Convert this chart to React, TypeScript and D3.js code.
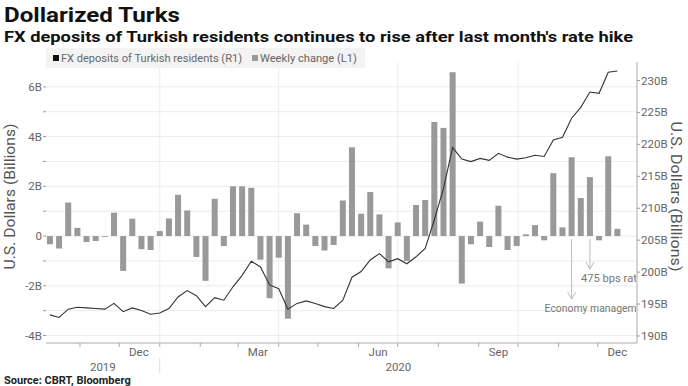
import React from "react";
import * as d3 from "d3";

// weekly data, first observation week of Oct 9 2019
const startDate = new Date(2019, 9, 9);

// Weekly change in FX deposits, USD billions (left axis)
const weeklyChange = [
  -0.33, -0.5, 1.35, 0.33, -0.24, -0.2, -0.03, 0.94, -1.4, 0.7, -0.53, -0.56,
  0.2, 0.71, 1.66, 1.03, -0.84, -1.8, 1.5, -0.4, 2.0, 2.0, 1.94, -0.95, -2.5,
  -0.87, -3.32, 0.92, 0.46, -0.4, -0.58, -0.36, 1.43, 3.57, 0.9, 1.77, 0.87,
  -1.3, 0.55, -1.0, 1.25, 1.45, 4.59, 4.35, 6.59, -1.91, -0.33, 0.58, -0.44,
  1.22, -0.56, -0.4, 0.07, 0.44, -0.17, 2.53, 0.35, 3.17, 1.53, 2.37, -0.17,
  3.21, 0.29,
];

// FX deposits of Turkish residents, USD billions (right axis)
const deposits = [
  193.3, 192.9, 194.2, 194.5, 194.4, 194.3, 194.2, 195.1, 193.8, 194.4, 194.0,
  193.4, 193.6, 194.3, 196.1, 197.1, 196.3, 194.6, 196.0, 195.6, 197.7, 199.5,
  201.7, 200.8, 198.0, 197.4, 194.2, 195.1, 195.5, 195.1, 194.6, 194.3, 195.6,
  199.2, 200.1, 201.9, 202.9, 201.6, 202.1, 201.3, 202.4, 203.7, 208.2, 213.1,
  219.5, 217.7, 217.3, 217.8, 217.5, 218.6, 218.0, 217.7, 217.9, 218.3, 218.1,
  220.7, 221.1, 224.1, 225.8, 228.2, 228.0, 231.3, 231.5,
];

const dates = weeklyChange.map((_, i) => d3.timeDay.offset(startDate, i * 7));

const leftTicks = [-4, -2, 0, 2, 4, 6];
const rightTicks = [190, 195, 200, 205, 210, 215, 220, 225, 230];
const monthLabels = [
  { date: new Date(2019, 11, 16), label: "Dec" },
  { date: new Date(2020, 2, 16), label: "Mar" },
  { date: new Date(2020, 5, 16), label: "Jun" },
  { date: new Date(2020, 8, 16), label: "Sep" },
  { date: new Date(2020, 11, 16), label: "Dec" },
];
// labels are cut off at the plot edge in the original
const annotations = [
  { idx: 57, label: "Economy managem", len: 60, dx: 27, w: 92 },
  { idx: 59, label: "475 bps rat", len: 30, dx: 9, w: 56 },
];

const W = 688;
const H = 386;
const L = 46,
  R = 637,
  T = 62,
  B = 343;
const font = "Roboto, 'Open Sans', sans-serif";
const grey = "#666";

export default function App() {
  const x = d3
    .scaleTime()
    .domain([new Date(2019, 9, 6), new Date(2020, 11, 31)])
    .range([L, R]);
  const yL = d3.scaleLinear().domain([-4.3, 7]).range([B, T]);
  const yR = d3.scaleLinear().domain([188.9, 232.9]).range([B, T]);

  const line = d3
    .line<number>()
    .x((_, i) => x(dates[i]))
    .y((d) => yR(d));

  const months = d3.timeMonth.range(new Date(2019, 10, 1), new Date(2021, 0, 1));
  const quarters = months.filter((m) => m.getMonth() % 3 === 0);
  const gridVals = d3.range(-4, 7, 1);
  const yearSplit = x(new Date(2020, 0, 1));
  const barW = 6;

  return (
    <svg
      width={W}
      height={H}
      style={{ position: "absolute", left: 0, top: 0, fontFamily: font }}
    >
      <defs>
        <clipPath id="plotclip">
          <rect x={L} y={T} width={R - L - 1} height={B - T} />
        </clipPath>
      </defs>
      <rect width={W} height={H} fill="#fff" />

      <text x={4} y={22} fontSize={21} fontWeight="bold" fill="#111" textLength={176} lengthAdjust="spacingAndGlyphs">
        Dollarized Turks
      </text>
      <text x={4} y={42} fontSize={14} fontWeight="bold" fill="#111" textLength={629} lengthAdjust="spacingAndGlyphs">
        FX deposits of Turkish residents continues to rise after last month's rate hike
      </text>

      {/* grid */}
      {gridVals.map((v) => (
        <line key={"g" + v} x1={L} x2={R} y1={yL(v)} y2={yL(v)} stroke="#ececec" strokeWidth={1} />
      ))}
      {quarters.map((q) => (
        <line key={"q" + +q} x1={x(q)} x2={x(q)} y1={T} y2={B} stroke="#ececec" strokeWidth={1} />
      ))}

      {/* legend */}
      <rect x={46} y={48} width={319} height={20} fill="#f3f3f3" />
      <rect x={53} y={55} width={6} height={6} fill="#111" />
      <text x={61} y={61.5} fontSize={10} fill={grey} textLength={181} lengthAdjust="spacingAndGlyphs">
        FX deposits of Turkish residents (R1)
      </text>
      <rect x={252} y={55} width={6} height={6} fill="#999" />
      <text x={260} y={61.5} fontSize={10} fill={grey} textLength={97} lengthAdjust="spacingAndGlyphs">
        Weekly change (L1)
      </text>

      {/* bars */}
      {weeklyChange.map((v, i) => (
        <rect
          key={"b" + i}
          x={x(dates[i]) - barW / 2}
          y={yL(Math.max(0, v))}
          width={barW}
          height={Math.max(0.8, Math.abs(yL(v) - yL(0)))}
          fill="#999"
        />
      ))}

      {/* line */}
      <path d={line(deposits) || ""} fill="none" stroke="#333" strokeWidth={1.1} />

      {/* annotations */}
      <g clipPath="url(#plotclip)">
        {annotations.map((a) => {
          const ax = x(dates[a.idx]);
          const y0 = yL(0) + 3;
          const y1 = y0 + a.len;
          return (
            <g key={a.label}>
              <line x1={ax} x2={ax} y1={y0} y2={y1} stroke="#bbb" strokeWidth={1} />
              <path
                d={`M${ax - 4},${y1 - 7}L${ax},${y1}L${ax + 4},${y1 - 7}`}
                fill="none"
                stroke="#bbb"
                strokeWidth={1}
              />
              <text
                x={ax - a.dx}
                y={y1 + 13}
                fontSize={10.5}
                fill="#777"
                textLength={a.w}
                lengthAdjust="spacingAndGlyphs"
              >
                {a.label}
              </text>
            </g>
          );
        })}
      </g>

      {/* axes lines */}
      <line x1={L} x2={R} y1={B} y2={B} stroke="#aaa" />
      <line x1={R} x2={R} y1={T} y2={B} stroke="#aaa" />

      {/* left axis */}
      {d3.range(-4, 7, 1).map((v) => (
        <line key={"lt" + v} x1={L - 3} x2={L} y1={yL(v)} y2={yL(v)} stroke="#999" />
      ))}
      {leftTicks.map((v) => (
        <text key={"ll" + v} x={L - 4} y={yL(v) + 4} fontSize={11.5} fill={grey} textAnchor="end">
          {v === 0 ? "0" : v + "B"}
        </text>
      ))}
      <text
        transform={`translate(15,${(T + B) / 2 - 6}) rotate(-90)`}
        fontSize={14}
        fill="#555"
        textAnchor="middle"
        textLength={146}
        lengthAdjust="spacingAndGlyphs"
      >
        U.S. Dollars (Billions)
      </text>

      {/* right axis */}
      {rightTicks.map((v) => (
        <g key={"rt" + v}>
          <line x1={R} x2={R + 3} y1={yR(v)} y2={yR(v)} stroke="#999" />
          <text x={R + 4} y={yR(v) + 4} fontSize={11.5} fill={grey}>
            {v + "B"}
          </text>
        </g>
      ))}
      <text
        transform={`translate(671,${(T + B) / 2 - 6}) rotate(90)`}
        fontSize={14}
        fill="#555"
        textAnchor="middle"
        textLength={150}
        lengthAdjust="spacingAndGlyphs"
      >
        U.S. Dollars (Billions)
      </text>

      {/* x axis */}
      {months.map((m) => (
        <line key={"mt" + +m} x1={x(m)} x2={x(m)} y1={B} y2={B + 4} stroke="#aaa" />
      ))}
      {monthLabels.map((m, i) => (
        <text key={"ml" + i} x={x(m.date)} y={356} fontSize={11.5} fill={grey} textAnchor="middle">
          {m.label}
        </text>
      ))}
      <line x1={yearSplit} x2={yearSplit} y1={358} y2={373} stroke="#ddd" />
      <text x={(L + yearSplit) / 2} y={371} fontSize={11.5} fill={grey} textAnchor="middle">
        2019
      </text>
      <text x={(yearSplit + R) / 2} y={371} fontSize={11.5} fill={grey} textAnchor="middle">
        2020
      </text>

      <text x={4} y={384} fontSize={11} fontWeight="bold" fill="#222">
        Source: CBRT, Bloomberg
      </text>
    </svg>
  );
}
